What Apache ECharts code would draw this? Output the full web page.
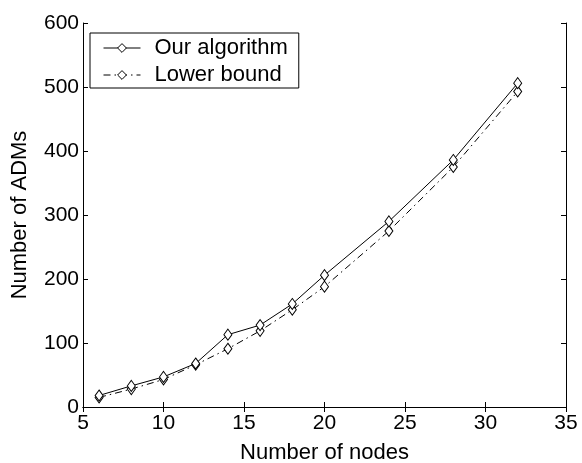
<!DOCTYPE html>
<html><head><meta charset="utf-8">
<script src="https://cdn.jsdelivr.net/npm/echarts@6/dist/echarts.min.js"></script>
<style>html,body{margin:0;padding:0;background:#fff}#c{width:582px;height:463px}</style>
</head><body><div id="c"></div>
<script>
const nodes = [6, 8, 10, 12, 14, 16, 18, 20, 24, 28, 32];
const ourAlgorithm = [18, 33, 47, 68, 113, 128, 161, 206, 290, 386, 506];
const lowerBound = [15, 28, 43, 66, 91, 119, 152, 188, 275, 375, 493];
const seriesNames = ['Our algorithm', 'Lower bound'];
const xTicks = [5, 35, 5];
const yTicks = [0, 600, 100];

const font = '"Liberation Sans", Arial, Helvetica, sans-serif';
const chart = echarts.init(document.getElementById('c'), null, {renderer: 'canvas'});
const axisLine = {show: true, lineStyle: {color: '#000', width: 1}};
const tick = {show: true, inside: true, length: 5, lineStyle: {color: '#000', width: 1}};
chart.setOption({
  animation: false,
  backgroundColor: '#fff',
  grid: {left: 83, right: 16, top: 23, bottom: 56, containLabel: false, outerBoundsMode: 'none'},
  legend: {
    left: 90, top: 33, orient: 'vertical',
    data: seriesNames,
    backgroundColor: '#fff',
    borderColor: '#000', borderWidth: 1, borderRadius: 0,
    padding: [4, 11, 2, 13], itemGap: 5,
    itemWidth: 37, itemHeight: 11,
    lineStyle: {width: 1},
    itemStyle: {borderWidth: 1},
    textStyle: {fontFamily: font, fontSize: 22, color: '#000', padding: [0, 0, 0, 9]}
  },
  xAxis: [{
    type: 'value', min: xTicks[0], max: xTicks[1], interval: xTicks[2],
    name: 'Number of nodes', nameLocation: 'middle', nameGap: 35,
    nameTextStyle: {fontFamily: font, fontSize: 22, color: '#000'},
    axisLine: axisLine, axisTick: tick, splitLine: {show: false},
    axisLabel: {fontFamily: font, fontSize: 21, color: '#000', margin: 6}
  }, {
    type: 'value', position: 'top', min: xTicks[0], max: xTicks[1], interval: xTicks[2],
    axisLine: axisLine, axisTick: tick, splitLine: {show: false}, axisLabel: {show: false}
  }],
  yAxis: [{
    type: 'value', min: yTicks[0], max: yTicks[1], interval: yTicks[2],
    name: 'Number of ADMs', nameLocation: 'middle', nameGap: 52,
    nameTextStyle: {fontFamily: font, fontSize: 22, color: '#000'},
    axisLine: axisLine, axisTick: tick, splitLine: {show: false},
    axisLabel: {fontFamily: font, fontSize: 21, color: '#000', margin: 4}
  }, {
    type: 'value', position: 'right', min: yTicks[0], max: yTicks[1], interval: yTicks[2],
    axisLine: axisLine, axisTick: tick, splitLine: {show: false}, axisLabel: {show: false}
  }],
  series: [{
    name: seriesNames[0], type: 'line',
    data: nodes.map((x, i) => [x, ourAlgorithm[i]]),
    symbol: 'diamond', symbolSize: [8, 11], showAllSymbol: true,
    lineStyle: {color: '#000', width: 1},
    itemStyle: {color: '#fff', borderColor: '#000', borderWidth: 1},
    z: 3
  }, {
    name: seriesNames[1], type: 'line',
    data: nodes.map((x, i) => [x, lowerBound[i]]),
    symbol: 'diamond', symbolSize: [8, 11], showAllSymbol: true,
    lineStyle: {color: '#000', width: 1, type: [7, 4, 1.5, 4]},
    itemStyle: {color: '#fff', borderColor: '#000', borderWidth: 1},
    z: 2
  }]
});
</script></body></html>
